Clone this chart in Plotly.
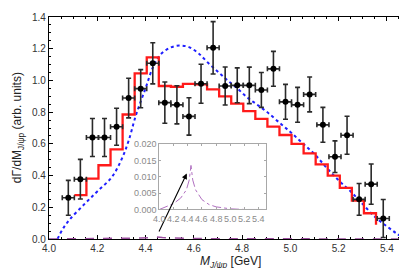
import plotly.graph_objects as go

# ---- data points (J/psi p invariant mass spectrum) ----
mass = [4.08, 4.13, 4.18, 4.23, 4.28, 4.33, 4.38, 4.43, 4.48, 4.53, 4.58, 4.63, 4.68, 4.73,
        4.78, 4.83, 4.88, 4.93, 4.98, 5.03, 5.08, 5.135, 5.185, 5.235, 5.285, 5.335, 5.385]
counts = [0.26, 0.377, 0.64, 0.64, 0.708, 0.889, 0.948, 1.108, 0.86, 0.846, 0.773, 0.979, 1.206, 0.965,
          0.969, 0.969, 0.94, 1.073, 0.865, 0.846, 0.912, 0.72, 0.519, 0.654, 0.25, 0.346, 0.129]
count_err = [0.11, 0.125, 0.12, 0.12, 0.117, 0.125, 0.12, 0.13, 0.13, 0.12, 0.118, 0.123, 0.165, 0.12,
             0.11, 0.115, 0.11, 0.11, 0.11, 0.11, 0.11, 0.11, 0.10, 0.12, 0.10, 0.127, 0.12]
mass_err = [0.025] * len(mass)

# ---- red histogram (bin left edges and heights) ----
hist_x = [4.105, 4.155, 4.205, 4.255, 4.305, 4.355, 4.405, 4.455, 4.505, 4.555, 4.605, 4.655, 4.705,
          4.755, 4.805, 4.855, 4.905, 4.955, 5.005, 5.055, 5.105, 5.155, 5.205, 5.255, 5.305, 5.355]
hist_y = [0.277, 0.381, 0.465, 0.565, 0.785, 1.044, 1.146, 0.965, 0.96, 0.978, 0.975, 0.944, 0.90,
          0.854, 0.806, 0.758, 0.709, 0.656, 0.60, 0.54, 0.47, 0.40, 0.323, 0.242, 0.1625, 0.09]

# ---- blue dotted curve ----
blue_x = [4.035, 4.06, 4.09, 4.15, 4.20, 4.26, 4.30, 4.33, 4.36, 4.40, 4.43, 4.46, 4.50, 4.54, 4.58,
          4.62, 4.66, 4.70, 4.74, 4.78, 4.82, 4.86, 4.90, 4.95, 5.00, 5.05, 5.10, 5.15, 5.20, 5.25,
          5.30, 5.35, 5.40, 5.44, 5.475]
blue_y = [0.0, 0.07, 0.13, 0.225, 0.30, 0.39, 0.50, 0.62, 0.78, 0.95, 1.08, 1.16, 1.205, 1.22, 1.21,
          1.17, 1.11, 1.055, 1.0, 0.95, 0.895, 0.85, 0.805, 0.74, 0.675, 0.605, 0.535, 0.45, 0.37, 0.30,
          0.22, 0.14, 0.08, 0.035, 0.0]

# ---- purple dashed curve (shown in inset) ----
purp_x = [4.0, 4.1, 4.2, 4.3, 4.38, 4.42, 4.445, 4.47, 4.51, 4.6, 4.7, 4.8, 4.9, 5.0, 5.2, 5.5]
purp_y = [0.0, 0.0008, 0.0018, 0.0035, 0.006, 0.009, 0.0135, 0.009, 0.006, 0.003, 0.0015, 0.0008,
          0.0004, 0.0002, 0.0, 0.0]

x_ticks = [4.0, 4.2, 4.4, 4.6, 4.8, 5.0, 5.2, 5.4]
y_ticks = [0.0, 0.2, 0.4, 0.6, 0.8, 1.0, 1.2, 1.4]
inset_y_ticks = [0.0, 0.005, 0.010, 0.015, 0.020]

FONT = "Liberation Sans, Arial, sans-serif"
PURPLE = "#9b4f9f"
INSET_GRAY = "#8a8a8a"
INSET_DOMAIN_Y = [0.133, 0.427]

fig = go.Figure()

fig.add_trace(go.Scatter(x=blue_x, y=blue_y, mode="lines", line=dict(color="#1f1fff", width=2, dash="dot", shape="spline"),
                         hoverinfo="skip"))
fig.add_trace(go.Scatter(x=purp_x, y=purp_y, mode="lines", line=dict(color=PURPLE, width=1.5, dash="dash"),
                         hoverinfo="skip"))
fig.add_trace(go.Scatter(x=hist_x, y=hist_y, mode="lines", line=dict(color="#ff1a1a", width=2.3, shape="hv")))
fig.add_trace(go.Scatter(
    x=mass, y=counts, mode="markers",
    marker=dict(color="black", size=6),
    error_y=dict(type="data", array=count_err, color="#2a2a2a", thickness=1.6, width=2.5),
    error_x=dict(type="data", array=mass_err, color="#2a2a2a", thickness=1.6, width=2.5),
))

# inset curve
fig.add_trace(go.Scatter(x=purp_x, y=purp_y, mode="lines", xaxis="x2", yaxis="y2",
                         line=dict(color="#b070c0", width=1, dash="dashdot")))

axis_common = dict(showgrid=False, zeroline=False, showline=True, linecolor="black", linewidth=1.2,
                   mirror="ticks", ticks="inside", ticklen=4, tickcolor="black", tickwidth=1,
                   tickfont=dict(family=FONT, size=10, color="#333"))

annotations = [
    dict(text="dΓ/dM<sub>J/ψp</sub> (arb. units)", xref="paper", yref="paper", x=-0.085, y=0.5,
         textangle=-90, showarrow=False, xanchor="center", yanchor="middle",
         font=dict(family=FONT, size=12, color="#222")),
    dict(text="<i>M</i><sub><i>J/ψp</i></sub> [GeV]", xref="paper", yref="paper", x=0.5, y=-0.105,
         showarrow=False, xanchor="center", yanchor="middle",
         font=dict(family=FONT, size=12, color="#222")),
    dict(x=4.571, y=0.413, ax=4.453, ay=0.0375, xref="x", yref="y", axref="x", ayref="y",
         text="", showarrow=True, arrowhead=2, arrowsize=1, arrowwidth=1.1, arrowcolor="black"),
]
# inset x tick labels (crowded, as in the reference)
for v in x_ticks:
    annotations.append(dict(text=f"{v:.1f}", xref="x2", yref="paper", x=v, y=INSET_DOMAIN_Y[0] - 0.012,
                            showarrow=False, xanchor="center", yanchor="top",
                            font=dict(family=FONT, size=9, color=INSET_GRAY)))

fig.update_layout(
    width=407, height=268,
    margin=dict(l=41, r=3, t=6, b=37),
    paper_bgcolor="white", plot_bgcolor="white",
    showlegend=False,
    font=dict(family=FONT),
    xaxis=dict(range=[4.0, 5.5], tickvals=x_ticks, ticktext=[f"{v:.1f}" for v in x_ticks],
               minor=dict(ticks="inside", dtick=0.05, ticklen=2, tickcolor="black"),
               layer="below traces", **axis_common),
    yaxis=dict(range=[0, 1.4], tickvals=y_ticks, ticktext=[f"{v:.1f}" for v in y_ticks],
               minor=dict(ticks="inside", dtick=0.05, ticklen=2, tickcolor="black"),
               **axis_common),
    xaxis2=dict(domain=[0.305, 0.599], anchor="y2", range=[4.0, 5.5], tickvals=x_ticks,
                showticklabels=False, showgrid=False, zeroline=False,
                showline=True, linecolor="#a8a8a8", linewidth=1, mirror="ticks", ticks="inside",
                ticklen=2, tickcolor="#a8a8a8"),
    yaxis2=dict(domain=INSET_DOMAIN_Y, anchor="x2", range=[0, 0.02], tickvals=inset_y_ticks,
                ticktext=[f"{v:.3f}" for v in inset_y_ticks], showgrid=False, zeroline=False,
                showline=True, linecolor="#a8a8a8", linewidth=1, mirror="ticks", ticks="inside",
                ticklen=2, tickcolor="#a8a8a8", tickfont=dict(family=FONT, size=9, color=INSET_GRAY)),
    annotations=annotations,
)

fig.write_html("out.html")
